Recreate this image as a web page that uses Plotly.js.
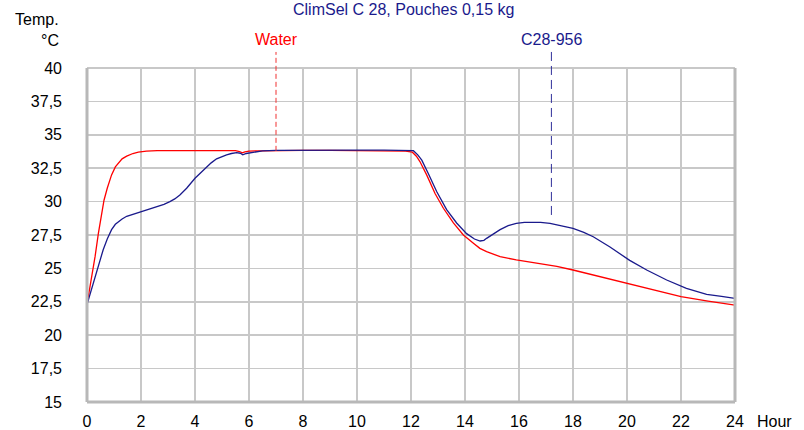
<!DOCTYPE html>
<html>
<head>
<meta charset="utf-8">
<script src="https://cdn.plot.ly/plotly-3.0.1.min.js"></script>
<style>html,body{margin:0;padding:0;background:#fff;}#chart{width:804px;height:430px;}</style>
</head>
<body>
<div id="chart"></div>
<script>
// ---- data ----
var waterHours = [0, 0.15, 0.3, 0.42, 0.53, 0.63, 0.75, 0.91, 1.05, 1.16, 1.3, 1.47, 1.7, 1.9, 2.2, 2.6, 3, 3.5, 4, 4.5, 5, 5.5, 5.65, 5.75, 5.85, 6, 6.5, 7, 8, 9, 10, 11, 11.8, 12.05, 12.2, 12.33, 12.58, 12.89, 13.2, 13.57, 13.94, 14.3, 14.55, 14.8, 15.3, 15.9, 16.78, 17.4, 18, 19, 20, 21, 22, 23, 24];
var waterTemp = [22.3, 24.0, 25.9, 27.6, 28.9, 30.1, 31.0, 32.0, 32.6, 32.9, 33.2, 33.4, 33.6, 33.7, 33.78, 33.82, 33.82, 33.83, 33.82, 33.82, 33.83, 33.82, 33.75, 33.65, 33.72, 33.78, 33.8, 33.82, 33.83, 33.83, 33.82, 33.8, 33.78, 33.7, 33.4, 33.0, 32.0, 30.6, 29.5, 28.4, 27.5, 26.9, 26.5, 26.25, 25.88, 25.63, 25.38, 25.15, 24.88, 24.38, 23.88, 23.38, 22.88, 22.55, 22.25];

var c28Hours = [0, 0.15, 0.3, 0.45, 0.6, 0.75, 0.91, 1.05, 1.16, 1.3, 1.47, 1.7, 1.96, 2.3, 2.58, 2.85, 3.07, 3.25, 3.44, 3.69, 4.0, 4.2, 4.37, 4.6, 4.8, 5.0, 5.17, 5.35, 5.54, 5.68, 5.77, 5.9, 6.1, 6.5, 7, 8, 9, 10, 11, 11.8, 12.09, 12.25, 12.4, 12.64, 12.95, 13.32, 13.69, 14.06, 14.35, 14.56, 14.7, 14.8, 15.05, 15.3, 15.6, 15.9, 16.2, 16.5, 16.8, 17.15, 17.6, 18.0, 18.4, 18.75, 19.37, 20.1, 20.73, 21.47, 22.2, 22.95, 23.5, 24];
var c28Temp = [22.3, 23.3, 24.3, 25.4, 26.4, 27.2, 27.9, 28.3, 28.5, 28.7, 28.9, 29.05, 29.25, 29.45, 29.6, 29.8, 30.0, 30.2, 30.5, 31.0, 31.75, 32.15, 32.5, 32.9, 33.2, 33.38, 33.5, 33.6, 33.66, 33.62, 33.5, 33.6, 33.68, 33.8, 33.83, 33.85, 33.85, 33.85, 33.85, 33.85, 33.81, 33.5, 33.1, 32.1, 30.75, 29.4, 28.4, 27.6, 27.2, 27.05, 27.1, 27.25, 27.6, 27.9, 28.2, 28.37, 28.44, 28.47, 28.45, 28.37, 28.2, 28.0, 27.7, 27.37, 26.6, 25.6, 24.88, 24.13, 23.5, 23.06, 22.9, 22.76];

var seriesNames = ["Water", "C28-956"];
var markerHours = [7, 17.2];
var markerTemps = [33.8, 29.0];

var xTickVals = [0, 2, 4, 6, 8, 10, 12, 14, 16, 18, 20, 22, 24];
var xTickText = ["0", "2", "4", "6", "8", "10", "12", "14", "16", "18", "20", "22", "24"];
var yTickVals = [15, 17.5, 20, 22.5, 25, 27.5, 30, 32.5, 35, 37.5, 40];
var yTickText = ["15", "17,5", "20", "22,5", "25", "27,5", "30", "32,5", "35", "37,5", "40"];

var titleText = "ClimSel C 28, Pouches 0,15 kg";
var yUnitText = ["Temp.", "°C"];
var xUnitText = "Hour";

// ---- styling ----
var RED = "#ff0000";
var NAVY = "#1a1a8c";
var FONT = "Liberation Sans, Arial, sans-serif";
var yMin = 15, yMax = 40;
function yPaper(v) { return (v - yMin) / (yMax - yMin); }

var traces = [
  {x: waterHours, y: waterTemp, type: "scatter", mode: "lines", name: seriesNames[0],
   line: {color: RED, width: 1.3}},
  {x: c28Hours, y: c28Temp, type: "scatter", mode: "lines", name: seriesNames[1],
   line: {color: NAVY, width: 1.3}}
];

var frameColor = "#b8b8b8";
var shapes = [
  {type: "line", xref: "paper", yref: "paper", x0: 0, x1: 1, y0: 1, y1: 1, line: {color: "#c8c8c8", width: 2}},
  {type: "line", xref: "paper", yref: "paper", x0: 0, x1: 0, y0: 0, y1: 1, line: {color: frameColor, width: 3}},
  {type: "line", xref: "paper", yref: "paper", x0: 1, x1: 1, y0: 0, y1: 1, line: {color: frameColor, width: 3}},
  {type: "line", xref: "paper", yref: "paper", x0: 0, x1: 1, y0: 0, y1: 0, line: {color: frameColor, width: 3}},
  {type: "line", xref: "x", yref: "paper", x0: markerHours[0], x1: markerHours[0], y0: yPaper(markerTemps[0]), y1: 1.048,
   line: {color: "#f03030", width: 1, dash: "5px,3px"}},
  {type: "line", xref: "x", yref: "paper", x0: markerHours[1], x1: markerHours[1], y0: yPaper(markerTemps[1]), y1: 1.048,
   line: {color: "#30309a", width: 1, dash: "9px,5px"}}
];

var annotations = [
  {text: titleText, xref: "paper", yref: "paper", x: (403 - 87) / 648, y: 1.176, xanchor: "center", yanchor: "middle",
   showarrow: false, font: {family: FONT, size: 16, color: NAVY}},
  {text: seriesNames[0], xref: "x", yref: "paper", x: markerHours[0], y: 1.084, xanchor: "center", yanchor: "middle",
   showarrow: false, font: {family: FONT, size: 16, color: RED}},
  {text: seriesNames[1], xref: "x", yref: "paper", x: markerHours[1], y: 1.084, xanchor: "center", yanchor: "middle",
   showarrow: false, font: {family: FONT, size: 16, color: NAVY}},
  {text: yUnitText[0], xref: "paper", yref: "paper", x: -(87 - 61) / 648, y: (402 - 19) / 334, xanchor: "right", yanchor: "middle",
   showarrow: false, font: {family: FONT, size: 16, color: "#000"}},
  {text: yUnitText[1], xref: "paper", yref: "paper", x: -(87 - 61) / 648, y: (402 - 40) / 334, xanchor: "right", yanchor: "middle",
   showarrow: false, font: {family: FONT, size: 16, color: "#000"}},
  {text: xUnitText, xref: "paper", yref: "paper", x: (755 - 87) / 648, y: (402 - 421) / 334, xanchor: "left", yanchor: "middle",
   showarrow: false, font: {family: FONT, size: 16, color: "#000"}}
];

var layout = {
  width: 804, height: 430,
  margin: {l: 87, r: 69, t: 68, b: 28, pad: 0},
  paper_bgcolor: "#fff", plot_bgcolor: "#fff",
  showlegend: false,
  font: {family: FONT, size: 16, color: "#000"},
  xaxis: {
    range: [0, 24], tickvals: xTickVals, ticktext: xTickText, showgrid: true, gridcolor: "#c8c8c8", gridwidth: 1.5,
    zeroline: false, showline: false, ticks: "", ticklabelstandoff: 8, tickfont: {family: FONT, size: 16, color: "#000"},
    fixedrange: true
  },
  yaxis: {
    range: [yMin, yMax], tickvals: yTickVals, ticktext: yTickText, showgrid: true, gridcolor: "#c8c8c8", gridwidth: 1.5,
    zeroline: false, showline: false, ticks: "", ticklabelstandoff: 24, tickfont: {family: FONT, size: 16, color: "#000"},
    fixedrange: true
  },
  shapes: shapes,
  annotations: annotations
};

Plotly.newPlot("chart", traces, layout, {displayModeBar: false, staticPlot: true});
</script>
</body>
</html>
